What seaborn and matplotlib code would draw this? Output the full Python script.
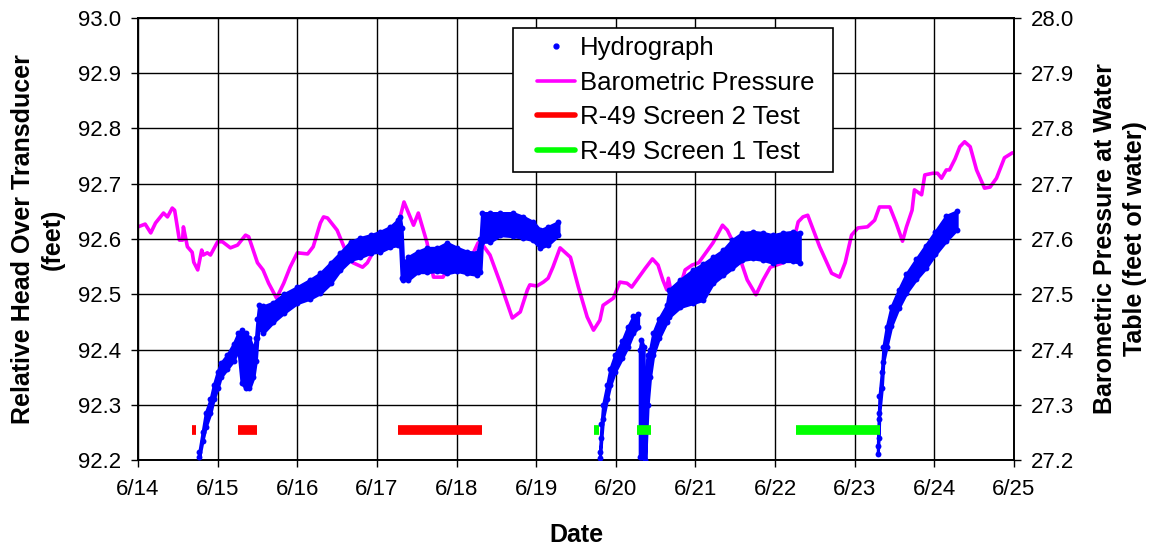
import numpy as np
import pandas as pd
import matplotlib
matplotlib.use("Agg")
import matplotlib.pyplot as plt
from matplotlib.lines import Line2D
from matplotlib.legend_handler import HandlerLine2D
import seaborn as sns

# ---------------------------------------------------------------- data
# x values are day of June (6/14 -> 14.0)
tick_days = list(range(14, 26))
tick_labels = [f"6/{d}" for d in tick_days]

# Barometric pressure at water table (feet of water)
baro_day = [14.00, 14.09, 14.16, 14.22, 14.32, 14.37, 14.43, 14.46, 14.52, 14.56,
            14.57, 14.62, 14.68, 14.70, 14.75, 14.80, 14.82, 14.87, 14.91, 15.00,
            15.06, 15.16, 15.25, 15.35, 15.39, 15.50, 15.57, 15.64, 15.74, 15.83,
            15.91, 16.00, 16.13, 16.20, 16.29, 16.33, 16.38, 16.50, 16.64, 16.70,
            16.82, 16.88, 17.00, 17.13, 17.26, 17.34, 17.46, 17.52, 17.63, 17.71,
            17.83, 17.88, 18.01, 18.08, 18.17, 18.27, 18.33, 18.42, 18.55, 18.70,
            18.80, 18.89, 18.92, 19.01, 19.09, 19.15, 19.21, 19.30, 19.43, 19.53,
            19.64, 19.72, 19.80, 19.84, 19.97, 20.05, 20.14, 20.20, 20.28, 20.37,
            20.46, 20.53, 20.59, 20.64, 20.66, 20.71, 20.77, 20.87, 20.96, 21.04,
            21.22, 21.34, 21.40, 21.53, 21.65, 21.76, 21.85, 21.94, 22.10, 22.19,
            22.29, 22.35, 22.41, 22.47, 22.56, 22.71, 22.81, 22.88, 22.96, 23.04,
            23.16, 23.25, 23.31, 23.44, 23.52, 23.60, 23.65, 23.72, 23.75, 23.84,
            23.88, 23.98, 24.04, 24.09, 24.15, 24.19, 24.26, 24.32, 24.38, 24.45,
            24.53, 24.63, 24.70, 24.78, 24.88, 24.98]
baro_press = [27.622, 27.627, 27.611, 27.629, 27.647, 27.640, 27.656, 27.652, 27.598, 27.598,
              27.622, 27.586, 27.576, 27.558, 27.544, 27.580, 27.571, 27.575, 27.571, 27.595,
              27.595, 27.584, 27.589, 27.607, 27.604, 27.557, 27.544, 27.520, 27.493, 27.520,
              27.549, 27.575, 27.573, 27.586, 27.629, 27.640, 27.638, 27.616, 27.567, 27.557,
              27.549, 27.557, 27.589, 27.604, 27.622, 27.667, 27.625, 27.647, 27.593, 27.531,
              27.531, 27.544, 27.544, 27.549, 27.562, 27.593, 27.589, 27.571, 27.520, 27.457,
              27.468, 27.508, 27.517, 27.515, 27.522, 27.529, 27.549, 27.584, 27.567, 27.513,
              27.459, 27.435, 27.453, 27.480, 27.493, 27.522, 27.520, 27.513, 27.529, 27.547,
              27.564, 27.553, 27.526, 27.508, 27.529, 27.493, 27.495, 27.544, 27.553, 27.557,
              27.593, 27.625, 27.616, 27.577, 27.526, 27.499, 27.526, 27.549, 27.557, 27.571,
              27.631, 27.640, 27.643, 27.620, 27.586, 27.538, 27.531, 27.557, 27.607, 27.620,
              27.622, 27.634, 27.658, 27.658, 27.629, 27.596, 27.622, 27.652, 27.689, 27.680,
              27.716, 27.719, 27.719, 27.710, 27.725, 27.725, 27.745, 27.767, 27.776, 27.767,
              27.725, 27.692, 27.694, 27.710, 27.747, 27.756]

# Hydrograph (relative head, feet): low / high of the logged readings per time step
hydro_a_day = [14.77, 14.81, 14.85, 14.91, 14.95, 15.00, 15.04, 15.12, 15.20, 15.26,
               15.30, 15.35, 15.40, 15.45, 15.48, 15.50, 15.52, 15.57, 15.70, 15.83,
               16.00, 16.16, 16.29, 16.42, 16.54, 16.67, 16.79, 16.92, 17.04, 17.17,
               17.26, 17.29, 17.31, 17.33, 17.39, 17.51, 17.63, 17.76, 17.88, 18.01,
               18.13, 18.26, 18.30, 18.32, 18.42, 18.55, 18.71, 18.84, 18.96, 19.05,
               19.15, 19.28]
hydro_a_lo = [92.205, 92.235, 92.260, 92.285, 92.310, 92.330, 92.350, 92.365, 92.380, 92.400,
              92.340, 92.330, 92.330, 92.350, 92.380, 92.420, 92.440, 92.430, 92.450, 92.466,
              92.484, 92.492, 92.502, 92.520, 92.544, 92.562, 92.567, 92.575, 92.577, 92.586,
              92.589, 92.590, 92.530, 92.526, 92.526, 92.540, 92.540, 92.542, 92.538, 92.542,
              92.538, 92.535, 92.540, 92.595, 92.595, 92.607, 92.605, 92.602, 92.598, 92.584,
              92.590, 92.607]
hydro_a_hi = [92.215, 92.250, 92.285, 92.310, 92.335, 92.360, 92.375, 92.390, 92.410, 92.430,
              92.435, 92.430, 92.420, 92.400, 92.420, 92.455, 92.480, 92.478, 92.485, 92.500,
              92.513, 92.526, 92.538, 92.557, 92.575, 92.595, 92.602, 92.607, 92.613, 92.622,
              92.634, 92.640, 92.620, 92.555, 92.567, 92.577, 92.584, 92.584, 92.593, 92.584,
              92.577, 92.575, 92.600, 92.647, 92.647, 92.647, 92.647, 92.640, 92.631, 92.616,
              92.622, 92.631]

hydro_b_day = [19.80, 19.82, 19.84, 19.89, 19.93, 19.99, 20.08, 20.15, 20.22, 20.28]
hydro_b_lo = [92.203, 92.240, 92.275, 92.310, 92.335, 92.360, 92.385, 92.405, 92.430, 92.440]
hydro_b_hi = [92.215, 92.265, 92.300, 92.335, 92.365, 92.390, 92.415, 92.440, 92.460, 92.465]

hydro_c_day = [20.30, 20.32, 20.35]
hydro_c_lo = [92.205, 92.205, 92.205]
hydro_c_hi = [92.400, 92.418, 92.405]

hydro_d_day = [20.37, 20.40, 20.43, 20.47, 20.54, 20.64, 20.67, 20.81, 20.97, 21.10,
               21.22, 21.35, 21.46, 21.59, 21.72, 21.85, 21.97, 22.10, 22.22, 22.31]
hydro_d_lo = [92.200, 92.300, 92.350, 92.390, 92.420, 92.450, 92.459, 92.477, 92.484, 92.490,
              92.520, 92.535, 92.547, 92.562, 92.565, 92.562, 92.557, 92.560, 92.560, 92.557]
hydro_d_hi = [92.360, 92.390, 92.400, 92.430, 92.455, 92.480, 92.508, 92.526, 92.544, 92.555,
              92.567, 92.580, 92.598, 92.611, 92.613, 92.611, 92.607, 92.611, 92.613, 92.611]

hydro_e_day = [23.29, 23.30, 23.31, 23.34, 23.36, 23.40, 23.46, 23.55, 23.65, 23.77,
               23.89, 24.01, 24.15, 24.28]
hydro_e_lo = [92.210, 92.240, 92.285, 92.330, 92.378, 92.405, 92.443, 92.475, 92.503, 92.527,
              92.547, 92.572, 92.597, 92.617]
hydro_e_hi = [92.225, 92.275, 92.315, 92.360, 92.405, 92.440, 92.477, 92.507, 92.537, 92.563,
              92.588, 92.613, 92.642, 92.650]

# Pumping test periods (start day, end day) and the head level the bars sit at
test_level = 92.255
screen2_start = [14.68, 15.26, 17.27]
screen2_end = [14.73, 15.49, 18.32]
screen1_start = [19.72, 20.27, 22.26]
screen1_end = [19.79, 20.44, 23.32]

# ---------------------------------------------------------------- style
sns.set_theme(style="white")
plt.rcParams["font.family"] = ["Liberation Sans", "DejaVu Sans"]
for key in ("text.color", "axes.labelcolor", "xtick.color", "ytick.color",
            "axes.edgecolor"):
    plt.rcParams[key] = "black"

BLUE = "#0000FF"
MAGENTA = "#FF00FF"
RED = "#FF0000"
GREEN = "#00FF00"

fig = plt.figure(figsize=(11.52, 5.5), dpi=100)
ax = fig.add_axes([0.1198, 0.1636, 0.7604, 0.8037])
ax2 = ax.twinx()

# ---------------------------------------------------------------- hydrograph
segments = [
    (hydro_a_day, hydro_a_lo, hydro_a_hi),
    (hydro_b_day, hydro_b_lo, hydro_b_hi),
    (hydro_c_day, hydro_c_lo, hydro_c_hi),
    (hydro_d_day, hydro_d_lo, hydro_d_hi),
    (hydro_e_day, hydro_e_lo, hydro_e_hi),
]
for day, lo, hi in segments:
    ax.fill_between(day, lo, hi, facecolor=BLUE, edgecolor=BLUE, lw=2.2, zorder=3)
    pts = pd.DataFrame({"day": day + day, "head": lo + hi})
    sns.scatterplot(data=pts, x="day", y="head", ax=ax, color=BLUE, s=18,
                    linewidth=0, zorder=4, legend=False)

# ---------------------------------------------------------------- test periods
ax.hlines([test_level] * len(screen2_start), screen2_start, screen2_end,
          colors=RED, lw=7, zorder=5)
ax.hlines([test_level] * len(screen1_start), screen1_start, screen1_end,
          colors=GREEN, lw=7, zorder=5)

# ---------------------------------------------------------------- barometric pressure
baro = pd.DataFrame({"day": baro_day, "press": baro_press})
sns.lineplot(data=baro, x="day", y="press", ax=ax2, color=MAGENTA, lw=2.6,
             sort=False, estimator=None, zorder=3)

# ---------------------------------------------------------------- axes
ax.set_xlim(14, 25)
ax.set_ylim(92.2, 93.0)
ax2.set_ylim(27.2, 28.0)
ax.set_xticks(tick_days)
ax.set_xticklabels(tick_labels)
ax.set_yticks(np.arange(92.2, 93.01, 0.1))
ax.set_yticklabels([f"{v:.1f}" for v in np.arange(92.2, 93.01, 0.1)])
ax2.set_yticks(np.arange(27.2, 28.01, 0.1))
ax2.set_yticklabels([f"{v:.1f}" for v in np.arange(27.2, 28.01, 0.1)])

ax.grid(True, color="black", lw=1.0)
ax.set_axisbelow(True)
ax2.grid(False)

for a in (ax, ax2):
    for s in a.spines.values():
        s.set_color("black")
        s.set_linewidth(1.2)
    a.tick_params(direction="out", length=5, width=1, colors="black",
                  labelsize=16, pad=7)
ax.tick_params(axis="x", bottom=True, pad=9)
ax.tick_params(axis="y", left=True)
ax2.tick_params(axis="y", right=True)

ax.set_xlabel("Date", fontsize=18, fontweight="bold", labelpad=16)
ax.set_ylabel("Relative Head Over Transducer\n(feet)", fontsize=18,
              fontweight="bold", labelpad=10, linespacing=1.3)
ax2.set_ylabel("Barometric Pressure at Water\nTable (feet of water)", fontsize=18,
               fontweight="bold", rotation=90, labelpad=14, linespacing=1.3)

ax.set_zorder(ax2.get_zorder() + 1)
ax.patch.set_visible(False)

handles = [
    Line2D([], [], ls="none", marker="o", markersize=3.5, color=BLUE),
    Line2D([], [], color=MAGENTA, lw=2.6),
    Line2D([], [], color=RED, lw=4),
    Line2D([], [], color=GREEN, lw=4),
]
labels = ["Hydrograph", "Barometric Pressure", "R-49 Screen 2 Test", "R-49 Screen 1 Test"]
leg = ax.legend(handles, labels, loc="upper left", bbox_to_anchor=(0.428, 0.0, 0.365, 0.977),
                mode="expand", fontsize=18.5, frameon=True, fancybox=False, framealpha=1,
                edgecolor="black", borderpad=0.3, labelspacing=0.42,
                handlelength=2.1, handletextpad=0.2, borderaxespad=0,
                handler_map={Line2D: HandlerLine2D(xpad=0.62)})
leg.get_frame().set_linewidth(1.2)
leg.set_zorder(10)

fig.savefig("out.png", dpi=100)
